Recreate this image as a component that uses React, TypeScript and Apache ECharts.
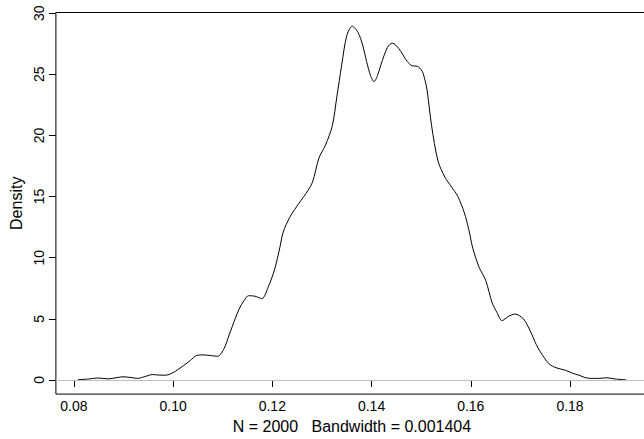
import React, { useEffect, useRef } from "react";
import * as echarts from "echarts";

const xValues = [
  0.0808, 0.083, 0.0849, 0.0869, 0.0885, 0.0899, 0.0915, 0.0928, 0.0945, 0.0958,
  0.0972, 0.0984, 0.1, 0.1021, 0.1035, 0.1047, 0.106, 0.1075, 0.109, 0.1103,
  0.1113, 0.1125, 0.1133, 0.1143, 0.1152, 0.1165, 0.1179, 0.1192, 0.1205, 0.1215,
  0.1222, 0.1235, 0.1245, 0.1258, 0.1268, 0.1281, 0.1294, 0.1307, 0.1321, 0.133,
  0.134, 0.135, 0.1361, 0.1373, 0.1382, 0.139, 0.1398, 0.1405, 0.1412, 0.1419,
  0.1432, 0.1442, 0.1455, 0.1472, 0.1482, 0.1492, 0.1502, 0.1508, 0.1512, 0.1521,
  0.1534, 0.1548, 0.1561, 0.1574, 0.1587, 0.1596, 0.1604, 0.1617, 0.163, 0.1643,
  0.1653, 0.1663, 0.1676, 0.1689, 0.1706, 0.172, 0.1732, 0.1745, 0.1758, 0.1772,
  0.1791, 0.1805, 0.1818, 0.183, 0.1841, 0.1858, 0.1874, 0.1891, 0.1913,
];

const densityValues = [
  0.02, 0.08, 0.16, 0.09, 0.18, 0.26, 0.2, 0.13, 0.3, 0.44,
  0.4, 0.39, 0.6, 1.18, 1.6, 2.0, 2.05, 2.0, 1.94, 2.6,
  3.68, 5.0, 5.79, 6.5, 6.89, 6.85, 6.66, 7.63, 9.1, 10.8,
  12.1, 13.3, 13.94, 14.7, 15.26, 16.18, 18.16, 19.2, 20.8, 23.15,
  25.8, 28.15, 28.94, 28.4, 27.4, 26.05, 24.9, 24.4, 24.9, 25.8,
  27.2, 27.55, 27.1, 26.05, 25.7, 25.66, 25.26, 24.47, 23.7, 20.8,
  17.9, 16.58, 15.8, 15.0, 13.68, 12.3, 10.78, 9.2, 8.16, 6.32,
  5.5, 4.86, 5.2, 5.39, 5.0, 4.0, 2.89, 2.0, 1.31, 1.0,
  0.79, 0.55, 0.39, 0.2, 0.13, 0.13, 0.18, 0.08, 0.01,
];

const xTickValues = [0.08, 0.1, 0.12, 0.14, 0.16, 0.18];
const yTickValues = [0, 5, 10, 15, 20, 25, 30];
const xTitle = "N = 2000   Bandwidth = 0.001404";
const yTitle = "Density";

const FONT = "'Liberation Sans', Arial, Helvetica, sans-serif";

export default function App() {
  const ref = useRef<HTMLDivElement>(null);
  useEffect(() => {
    const chart = echarts.init(ref.current!, null, { renderer: "svg" });
    chart.setOption({
      animation: false,
      backgroundColor: "#ffffff",
      grid: {
        left: 43,
        right: 52,
        top: 12.5,
        bottom: 31.3,
        show: true,
        borderColor: "#000",
        borderWidth: 1,
        backgroundColor: "transparent",
      },
      xAxis: {
        type: "value",
        min: 0.07638,
        max: 0.19572,
        name: xTitle,
        nameLocation: "middle",
        nameGap: 8,
        nameTextStyle: { fontFamily: FONT, fontSize: 16, color: "#000", verticalAlign: "top" },
        axisLine: { show: false },
        axisTick: { show: true, length: 7, lineStyle: { color: "#000" }, customValues: xTickValues },
        axisLabel: {
          customValues: xTickValues,
          margin: 5,
          fontFamily: FONT,
          fontSize: 14,
          color: "#000",
          formatter: (v: number) => v.toFixed(2),
        },
        splitLine: { show: false },
      },
      yAxis: {
        type: "value",
        min: -1.156,
        max: 30.056,
        name: yTitle,
        nameLocation: "middle",
        nameGap: 20,
        nameRotate: 90,
        nameTextStyle: { fontFamily: FONT, fontSize: 16, color: "#000" },
        axisLine: { show: false },
        axisTick: { show: true, length: 7, lineStyle: { color: "#000" }, customValues: yTickValues },
        axisLabel: {
          customValues: yTickValues,
          rotate: 90,
          margin: 10,
          fontFamily: FONT,
          fontSize: 14,
          color: "#000",
        },
        splitLine: { show: false },
      },
      series: [
        {
          type: "line",
          data: xValues.map((x, i) => [x, densityValues[i]]),
          showSymbol: false,
          smooth: 0.3,
          lineStyle: { color: "#000", width: 1 },
          markLine: {
            silent: true,
            symbol: "none",
            label: { show: false },
            lineStyle: { color: "#bebebe", type: "solid", width: 1 },
            data: [{ yAxis: 0 }],
          },
          z: 3,
        },
      ],
    });
    return () => chart.dispose();
  }, []);
  return (
    <div
      ref={ref}
      style={{ position: "fixed", left: 0, top: 0, width: 700, height: 439, background: "#fff" }}
    />
  );
}
